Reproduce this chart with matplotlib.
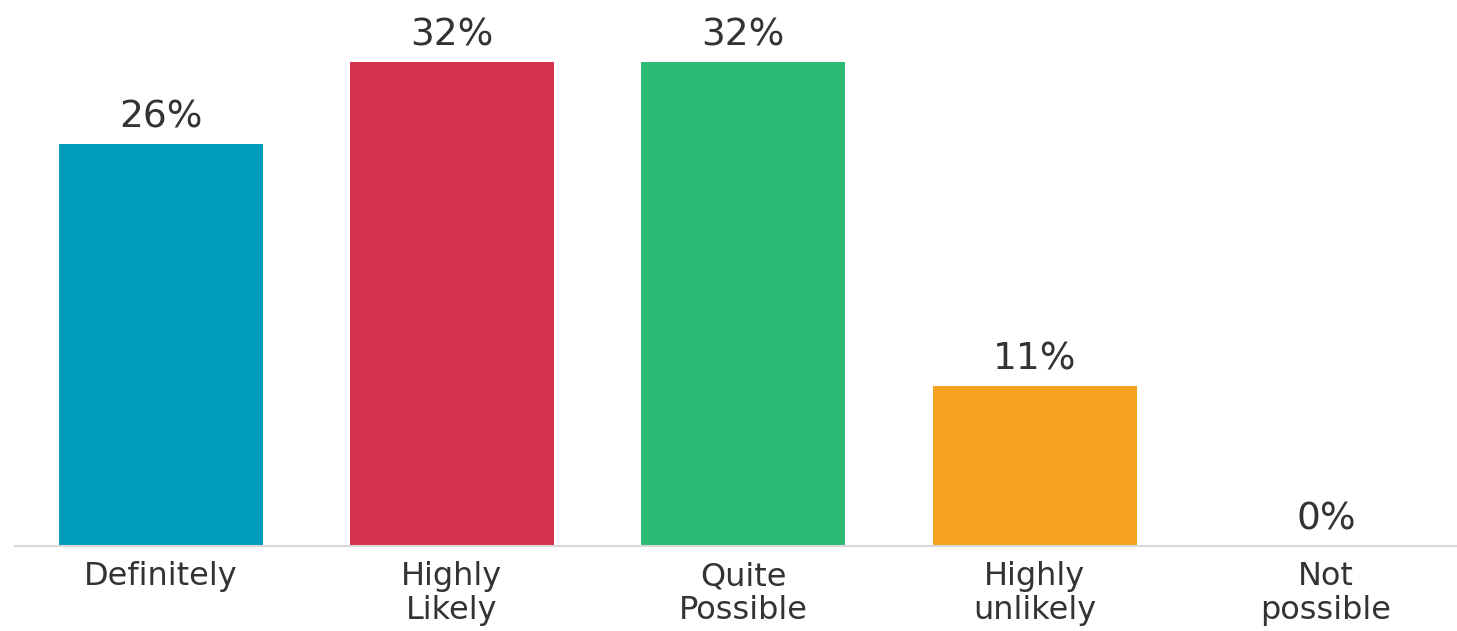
import matplotlib.pyplot as plt

# chart data
categories = ["Definitely", "Highly\nLikely", "Quite\nPossible", "Highly\nunlikely", "Not\npossible"]
values = [26.6, 32, 32, 10.6, 0]
value_labels = ["26%", "32%", "32%", "11%", "0%"]
bar_colors = ["#009DBA", "#D3314D", "#2DBA74", "#F4A21F", "#999999"]

plt.rcParams['font.family'] = ['DejaVu Sans']

fig = plt.figure(figsize=(14.57, 6.31), dpi=100)
ax = fig.add_axes([15 / 1457, 85 / 631, 1442 / 1457, 546 / 631])

x = list(range(len(categories)))
ax.bar(x, values, width=0.7, color=bar_colors)

# value labels above each bar
for i, v in enumerate(values):
    ax.annotate(value_labels[i], (i, v), xytext=(0, 12), textcoords="offset points",
                ha="center", va="baseline", fontsize=27, color="#333333")

ax.set_xlim(-0.5, 4.45)
ax.set_ylim(0, 36.1)
ax.set_xticks(x)
ax.set_xticklabels(categories, fontsize=23, color="#333333", linespacing=1.1)
ax.tick_params(axis="x", length=0, pad=11)
ax.set_yticks([])

for side in ["top", "right", "left"]:
    ax.spines[side].set_visible(False)
ax.spines["bottom"].set_color("#d9d9d9")
ax.spines["bottom"].set_linewidth(1.5)

fig.savefig("out.png", dpi=100)
